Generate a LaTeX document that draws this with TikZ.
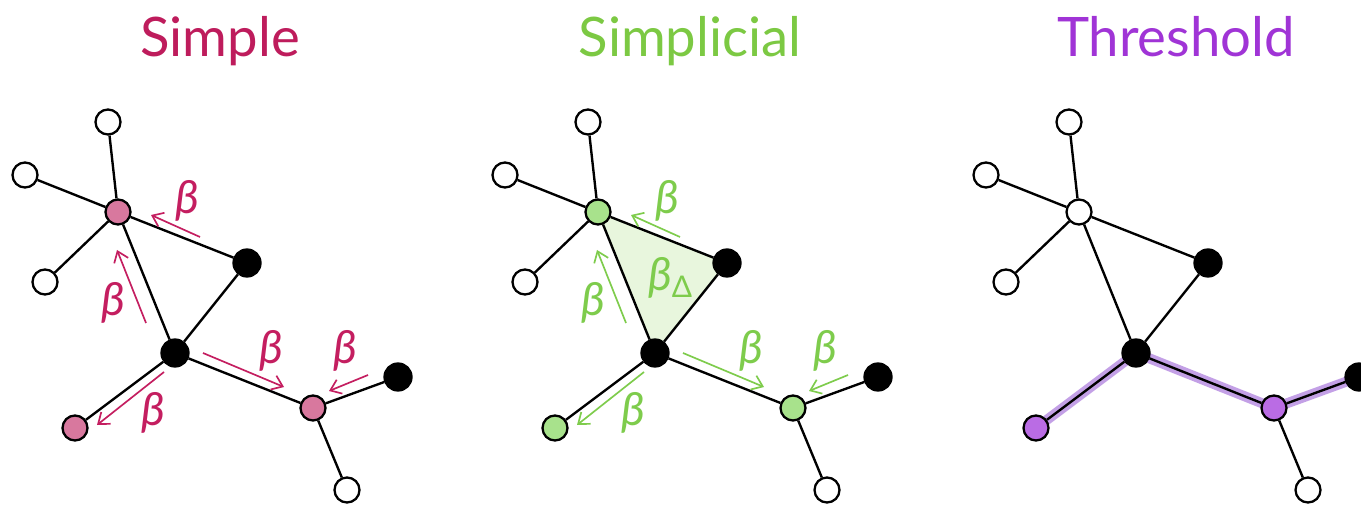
\documentclass[tikz,border=0pt]{standalone}
\usepackage{fontspec}
\setmainfont{Lato}
\usetikzlibrary{arrows.meta,calc}
\pgfdeclarelayer{paper}
\pgfdeclarelayer{bgfill}
\pgfdeclarelayer{bgedge}
\pgfsetlayers{paper,bgfill,bgedge,main}
\definecolor{pinkT}{RGB}{190,28,92}
\definecolor{pinkF}{RGB}{216,120,158}
\definecolor{pinkA}{RGB}{196,30,96}
\definecolor{greenT}{RGB}{124,201,67}
\definecolor{greenF}{RGB}{168,226,140}
\definecolor{greenA}{RGB}{126,204,76}
\definecolor{greenTri}{RGB}{232,246,221}
\definecolor{purpT}{RGB}{160,52,214}
\definecolor{purpF}{RGB}{186,108,228}
\definecolor{purpG}{RGB}{170,120,220}
\tikzset{
  vtx/.style={circle,draw=black,line width=1.3pt,minimum size=25*0.02cm,inner sep=0pt,fill=white},
  blk/.style={vtx,fill=black,minimum size=27*0.02cm},
  edge/.style={line width=1.35pt,black},
  flow/.style={line width=0.95pt,-{Straight Barb[length=10*0.02cm,width=15*0.02cm]}},
  blab/.style={font=\itshape\fontsize{26pt}{26pt}\selectfont,inner sep=0pt},
  title/.style={font=\fontsize{31pt}{31pt}\selectfont,anchor=base},
  glow/.style={line width=10*0.02cm,purpG,opacity=0.7,line cap=round},
}
\newcommand\panelnodes[4]{%
  \node[vtx] (#1t) at (108,122) {};
  \node[vtx] (#1l) at (25,175) {};
  \node[vtx] (#1w) at (45,282) {};
  \node[vtx,fill=#2] (#1h) at (118,212) {};
  \node[blk] (#1b) at (247,263) {};
  \node[blk] (#1c) at (175,353) {};
  \node[vtx,fill=#3] (#1p) at (75,428) {};
  \node[vtx,fill=#4] (#1r) at (313,408) {};
  \node[blk] (#1f) at (398,377) {};
  \node[vtx] (#1d) at (347,490) {};
  \begin{pgfonlayer}{bgedge}
  \draw[edge] (#1t) -- (#1h) (#1l) -- (#1h) (#1w) -- (#1h) (#1h) -- (#1b)
    (#1h) -- (#1c) (#1b) -- (#1c) (#1c) -- (#1p) (#1c) -- (#1r)
    (#1r) -- (#1f) (#1r) -- (#1d);
  \end{pgfonlayer}
}
\newcommand\panelarrows[2]{%
  \coordinate (#1a1s) at (200,237); \coordinate (#1a1e) at (151,215);
  \coordinate (#1a2s) at (146,323); \coordinate (#1a2e) at (117,250);
  \coordinate (#1a3s) at (203,353); \coordinate (#1a3e) at (284,387);
  \coordinate (#1a4s) at (368,375); \coordinate (#1a4e) at (329,391);
  \coordinate (#1a5s) at (164,372); \coordinate (#1a5e) at (97,425);
  \draw[flow,#2] (#1a1s) -- (#1a1e);
  \draw[flow,#2] (#1a2s) -- (#1a2e);
  \draw[flow,#2] (#1a3s) -- (#1a3e);
  \draw[flow,#2] (#1a4s) -- (#1a4e);
  \draw[flow,#2] (#1a5s) -- (#1a5e);
  \node[blab,text=#2] (#1b1) at (187,201) {β};
  \node[blab,text=#2] (#1b2) at (113,303) {β};
  \node[blab,text=#2] (#1b3) at (271,351) {β};
  \node[blab,text=#2] (#1b4) at (345,351) {β};
  \node[blab,text=#2] (#1b5) at (153,413) {β};
}
\begin{document}
\begin{tikzpicture}[x=0.02cm,y=-0.02cm]
\useasboundingbox (0,0) rectangle (1361,509);
\begin{pgfonlayer}{paper}
  \fill[white] (0,0) rectangle (1361,509);
\end{pgfonlayer}
\node[title,text=pinkT] (t1) at (220,57) {Simple};
\node[title,text=greenT] (t2) at (690,57) {Simplicial};
\node[title,text=purpT] (t3) at (1176,57) {Threshold};
% Panel 1
\begin{scope}
  \panelnodes{A}{pinkF}{pinkF}{pinkF}
  \panelarrows{A}{pinkA}
\end{scope}
% Panel 2
\begin{scope}[shift={(480,0)}]
  \panelnodes{B}{greenF}{greenF}{greenF}
  \panelarrows{B}{greenA}
  \node[blab,text=greenA] (Bbd) at (190,278) {β\raisebox{-0.3ex}{\upshape\fontsize{17pt}{17pt}\selectfont Δ}};
\end{scope}
\begin{pgfonlayer}{bgfill}
  \fill[greenTri] (Bh.center) -- (Bb.center) -- (Bc.center) -- cycle;
\end{pgfonlayer}
% Panel 3
\begin{scope}[shift={(961,0)}]
  \panelnodes{C}{white}{purpF}{purpF}
\end{scope}
\begin{pgfonlayer}{bgfill}
  \draw[glow] (Cp.center) -- (Cc.center) -- (Cr.center) -- (Cf.center);
\end{pgfonlayer}
\end{tikzpicture}
\end{document}
